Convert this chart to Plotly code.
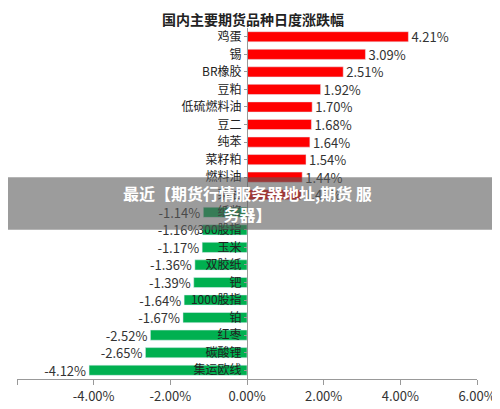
import plotly.graph_objects as go

categories = ["鸡蛋","锡","BR橡胶","豆粕","低硫燃料油","豆二","纯苯","菜籽粕","燃料油","菜油",
              "纸浆","300股指","玉米","双胶纸","钯","1000股指","铂","红枣","碳酸锂","集运欧线"]
values = [4.21,3.09,2.51,1.92,1.70,1.68,1.64,1.54,1.44,1.41,
          -1.14,-1.16,-1.17,-1.36,-1.39,-1.64,-1.67,-2.52,-2.65,-4.12]
tick_vals = [-6,-4,-2,0,2,4,6]
tick_text = ["-6.00%","-4.00%","-2.00%","0.00%","2.00%","4.00%","6.00%"]

F = "Noto Sans CJK SC"
colors = ["#FF0000" if v > 0 else "#00B050" for v in values]
fig = go.Figure(go.Bar(
    x=values, y=categories, orientation="h", marker_color=colors,
    text=[f"{v:.2f}%" for v in values], textposition="outside", constraintext="none",
    textfont=dict(family=F, size=13, color="#333"), cliponaxis=False,
))
fig.update_layout(
    width=500, height=409, margin=dict(l=9, r=31, t=20, b=38, autoexpand=False),
    paper_bgcolor="white", plot_bgcolor="white", showlegend=False, bargap=0.42,
    font=dict(family=F, size=12, color="#333"),
    title=dict(text="<b>国内主要期货品种日度涨跌幅</b>", x=0.49, xanchor="center", y=0.982, yanchor="top",
               font=dict(family=F, size=14, color="#222")),
    xaxis=dict(range=[-6, 6], tickvals=tick_vals, ticktext=tick_text, showgrid=False, zeroline=False,
               showline=True, linecolor="#999", ticks="outside", tickcolor="#999", ticklen=5,
               automargin=False, tickfont=dict(family=F, size=13, color="#333")),
    yaxis=dict(categoryorder="array", categoryarray=categories[::-1], range=[-0.5, 19.5],
               anchor="free", position=0.5, automargin=False,
               showline=True, linecolor="#999", ticks="outside", tickcolor="#999", ticklen=3,
               showgrid=False, tickfont=dict(family=F, size=12, color="#222")),
)
fig.add_shape(type="rect", xref="paper", yref="paper", x0=-0.04, x1=1.1, y0=0.425, y1=0.575,
              fillcolor="rgba(90,90,90,0.6)", line_width=0, layer="above")
fig.add_annotation(xref="paper", yref="paper", x=0.5, y=0.5, showarrow=False, align="center",
                   text="<b>最近【期货行情服务器地址,期货 服<br>务器】</b>",
                   font=dict(family=F, size=16, color="white"))
fig.write_html("out.html")
